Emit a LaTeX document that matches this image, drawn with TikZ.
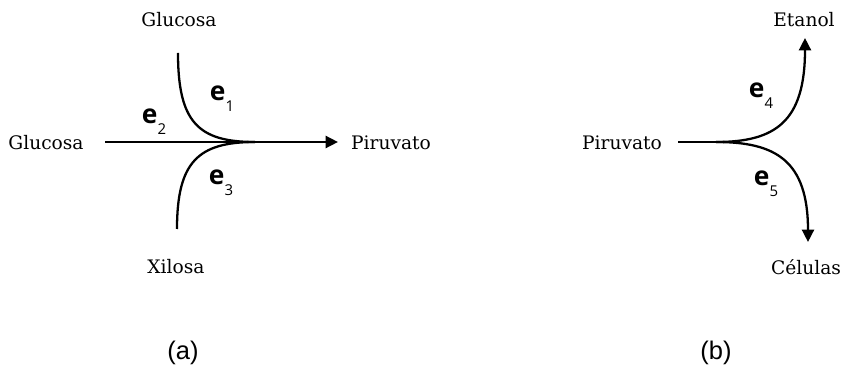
\documentclass[tikz,border=0pt]{standalone}
\usepackage{fontspec}
\setmainfont{DejaVu Serif}
\newfontfamily\enzfont{Open Sans}
\newfontfamily\capfont{Liberation Sans}
\usetikzlibrary{arrows.meta}

\newcommand{\enzlabel}[1]{{\enzfont\bfseries\fontsize{15}{17}\selectfont e}\raisebox{-1.2ex}{\enzfont\fontsize{8.5}{10}\selectfont #1}}

\tikzset{
  met/.style={font=\fontsize{10.6}{12}\selectfont},
  enz/.style={inner sep=0pt},
  sub/.style={font=\capfont\fontsize{14.5}{16}\selectfont},
  flux/.style={line width=1.3pt},
  >={Triangle[length=7pt,width=6.8pt]}
}

\begin{document}
\begin{tikzpicture}[x=0.02cm,y=-0.02cm]
      \useasboundingbox (0,0) rectangle (845,371);
      % (a) uptake of the two sugars
      \draw
        (179,20) node[met] (glcT){Glucosa}
        (46,143) node[met] (glcL){Glucosa}
        (176,267) node[met] (xil){Xilosa}
        (391,143) node[met] (pirA){Piruvato}
        (222,99) node[enz] (e1){\enzlabel{1}}
        (154,122) node[enz] (e2){\enzlabel{2}}
        (221,183) node[enz] (e3){\enzlabel{3}}
        (183,353) node[sub] (capA){(a)};
      \coordinate (inT) at (178,53);
      \coordinate (inL) at (105,142);
      \coordinate (inX) at (177,229);
      \coordinate (mA) at (255,142);
      \coordinate (outA) at (338,142);
      \begin{scope}[flux]
        \draw[->] (inL) to (outA);
        \draw (inT) .. controls (178,122) and (198,142) .. (mA);
        \draw (inX) .. controls (177,162) and (198,142) .. (mA);
      \end{scope}
      % (b) pyruvate split
      \draw
        (622,143) node[met] (pirB){Piruvato}
        (804,20) node[met] (eta){Etanol}
        (806,267) node[met] (cel){Células}
        (761,96) node[enz] (e4){\enzlabel{4}}
        (766,184) node[enz] (e5){\enzlabel{5}}
        (716,353) node[sub] (capB){(b)};
      \coordinate (inB) at (678,142);
      \coordinate (mB) at (716,142);
      \coordinate (outE) at (805,38);
      \coordinate (outC) at (808,242);
      \begin{scope}[flux]
        \draw (inB) to (mB);
        \draw[->] (mB) .. controls (775,142) and (805,122) .. (outE);
        \draw[->] (mB) .. controls (775,142) and (808,160) .. (outC);
      \end{scope}
    \end{tikzpicture}
\end{document}
